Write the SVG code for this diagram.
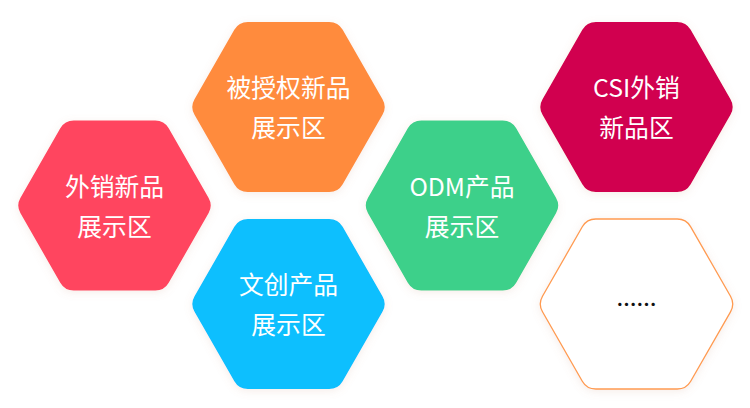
<svg xmlns="http://www.w3.org/2000/svg" width="750" height="408" viewBox="0 0 750 408">
<style>
.t{font-family:"Noto Sans CJK SC","Noto Sans",sans-serif;font-size:24.8px;font-weight:400;fill:#fff;text-anchor:middle}
.hex{filter:url(#s)}
</style>
<defs>
<filter id="s" x="-15%" y="-15%" width="130%" height="130%"><feDropShadow dx="0" dy="2" stdDeviation="4" flood-color="#c89070" flood-opacity="0.16"/></filter>
<path id="h" d="M-40.7,-85L40.7,-85A15.6,15.6 0 0 1 54.2,-77.2L94,-7.8A15.6,15.6 0 0 1 94,7.8L54.2,77.2A15.6,15.6 0 0 1 40.7,85L-40.7,85A15.6,15.6 0 0 1 -54.2,77.2L-94,7.8A15.6,15.6 0 0 1 -94,-7.8L-54.2,-77.2A15.6,15.6 0 0 1 -40.7,-85Z"/>
</defs>
<rect width="750" height="408" fill="#fff"/>
<g id="node-waixiao" transform="translate(114.5,205.5)"><use class="hex" href="#h" fill="#FF445E"/><text class="t" y="-10">外销新品</text><text class="t" y="30">展示区</text></g>
<g id="node-shouquan" transform="translate(288.5,107)"><use class="hex" href="#h" fill="#FF8B3E"/><text class="t" y="-10">被授权新品</text><text class="t" y="30">展示区</text></g>
<g id="node-wenchuang" transform="translate(288.5,304)"><use class="hex" href="#h" fill="#0DBFFE"/><text class="t" y="-10">文创产品</text><text class="t" y="30">展示区</text></g>
<g id="node-odm" transform="translate(462,205.5)"><use class="hex" href="#h" fill="#3CD08A"/><text class="t" y="-10">ODM产品</text><text class="t" y="30">展示区</text></g>
<g id="node-csi" transform="translate(636.5,107)"><use class="hex" href="#h" fill="#D1004F"/><text class="t" y="-10">CSI外销</text><text class="t" y="30">新品区</text></g>
<g id="node-more" transform="translate(636.5,304)"><use class="hex" href="#h" fill="#fff" stroke="#FF9A50" stroke-width="1.3"/><text x="0" y="8" style="font-family:'Noto Sans CJK SC',sans-serif;font-size:20px;font-weight:700;fill:#111;text-anchor:middle">……</text></g>
<g id="connectors"/>
</svg>
